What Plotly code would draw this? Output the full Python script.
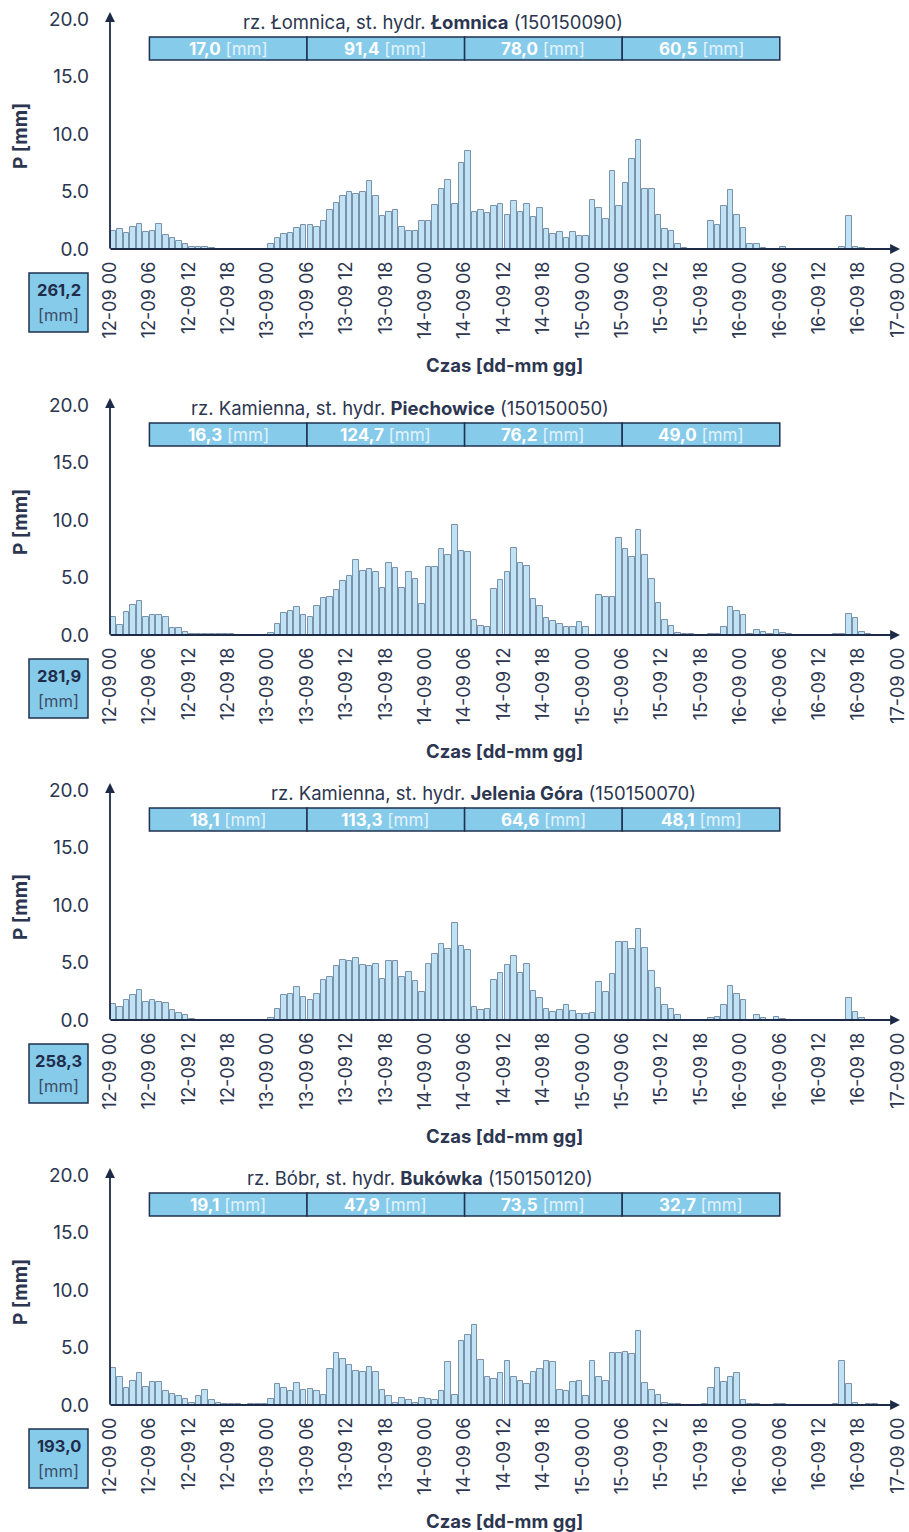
import plotly.graph_objects as go

# ---------------- data ----------------
tick_labels = ["12-09 00", "12-09 06", "12-09 12", "12-09 18",
               "13-09 00", "13-09 06", "13-09 12", "13-09 18",
               "14-09 00", "14-09 06", "14-09 12", "14-09 18",
               "15-09 00", "15-09 06", "15-09 12", "15-09 18",
               "16-09 00", "16-09 06", "16-09 12", "16-09 18",
               "17-09 00"]
hours = list(range(120))

lomnica = [1.6, 1.7, 1.4, 1.9, 2.2, 1.5, 1.6, 2.2, 1.2, 1.0, 0.7, 0.4,
           0.2, 0.2, 0.2, 0.1, 0, 0, 0, 0, 0, 0, 0, 0,
           0.4, 1.0, 1.3, 1.4, 1.8, 2.1, 2.1, 1.9, 2.4, 3.4, 4.0, 4.6,
           5.0, 4.8, 5.0, 5.9, 4.6, 2.9, 3.2, 3.4, 1.9, 1.6, 1.6, 2.4,
           2.4, 3.8, 5.2, 6.0, 3.9, 7.5, 8.5, 3.2, 3.4, 3.1, 3.7, 3.9,
           3.0, 4.2, 3.2, 3.9, 2.8, 3.6, 1.7, 1.3, 1.5, 1.0, 1.5, 1.1,
           1.1, 4.3, 3.6, 2.6, 6.8, 3.7, 5.7, 7.8, 9.5, 5.2, 5.2, 3.0,
           1.7, 1.6, 0.4, 0.1, 0, 0, 0, 2.4, 2.1, 3.7, 5.1, 3.0,
           1.8, 0.4, 0.4, 0.1, 0, 0, 0.2, 0, 0, 0, 0, 0,
           0, 0, 0, 0.2, 2.9, 0.2, 0.1, 0, 0, 0, 0, 0]

piechowice = [1.6, 0.9, 2.0, 2.6, 3.0, 1.6, 1.7, 1.7, 1.6, 0.6, 0.6, 0.3,
              0.1, 0.05, 0.05, 0.05, 0.05, 0.05, 0.05, 0, 0, 0, 0.03, 0.03,
              0.2, 1.0, 1.9, 2.1, 2.4, 1.7, 1.6, 2.5, 3.2, 3.3, 3.9, 4.7,
              5.1, 6.5, 5.6, 5.7, 5.5, 4.1, 6.3, 5.8, 4.1, 5.5, 4.9, 2.7,
              5.9, 5.9, 7.5, 7.0, 9.6, 7.3, 7.2, 1.3, 0.8, 0.7, 4.0, 4.8,
              5.5, 7.6, 6.3, 6.0, 3.1, 2.5, 1.5, 1.2, 1.0, 0.7, 0.7, 1.1,
              0.7, 0, 3.5, 3.3, 3.3, 8.4, 7.5, 6.8, 9.1, 7.0, 4.9, 2.8,
              1.3, 0.8, 0.2, 0.05, 0.05, 0, 0, 0.05, 0.1, 0.7, 2.4, 2.1,
              1.7, 0.05, 0.4, 0.3, 0.05, 0.4, 0.2, 0.05, 0, 0, 0, 0,
              0, 0, 0.05, 0.05, 1.8, 1.5, 0.3, 0.1, 0, 0, 0, 0]

jelenia_gora = [1.4, 1.1, 1.7, 2.2, 2.6, 1.6, 1.7, 1.6, 1.5, 0.9, 0.6, 0.4,
                0.1, 0.03, 0.03, 0.03, 0.03, 0.03, 0.03, 0.03, 0, 0, 0.03, 0.03,
                0.2, 1.0, 2.2, 2.3, 2.9, 2.0, 1.7, 2.3, 3.5, 3.7, 4.7, 5.2,
                5.1, 5.4, 4.8, 4.7, 4.9, 3.6, 5.1, 5.1, 3.7, 4.2, 3.4, 2.4,
                4.9, 5.7, 6.6, 6.2, 8.4, 6.4, 6.1, 1.1, 0.9, 1.0, 3.5, 4.1,
                4.8, 5.6, 4.1, 4.9, 2.5, 1.9, 1.0, 0.7, 0.9, 1.3, 0.8, 0.5,
                0.5, 0.6, 3.3, 2.4, 4.0, 6.8, 6.8, 6.2, 7.9, 6.3, 4.3, 2.8,
                1.3, 1.0, 0.4, 0, 0, 0, 0, 0.2, 0.3, 1.3, 3.0, 2.3,
                1.7, 0, 0.4, 0.2, 0.03, 0.3, 0.1, 0.03, 0, 0, 0, 0,
                0, 0, 0, 0.03, 1.9, 0.7, 0.2, 0, 0, 0, 0, 0]

bukowka = [3.2, 2.4, 1.5, 2.1, 2.8, 1.6, 2.0, 2.0, 1.2, 1.0, 0.8, 0.5,
           0.2, 0.8, 1.3, 0.4, 0.2, 0.1, 0.06, 0.06, 0, 0.06, 0.06, 0.06,
           0.5, 1.8, 1.5, 1.2, 1.9, 1.3, 1.4, 1.2, 0.9, 3.1, 4.5, 4.0,
           3.5, 3.0, 2.9, 3.3, 2.9, 1.3, 0.8, 0.2, 0.6, 0.4, 0.2, 0.6,
           0.5, 0.4, 1.2, 3.7, 0.9, 5.6, 6.1, 7.0, 3.9, 2.4, 2.3, 2.8,
           3.8, 2.4, 2.1, 1.8, 2.9, 3.1, 3.8, 3.7, 1.3, 1.2, 2.0, 2.1,
           0.8, 3.8, 2.4, 2.1, 4.5, 4.5, 4.6, 4.4, 6.4, 1.9, 1.3, 0.9,
           0.2, 0.06, 0.06, 0, 0, 0, 0.06, 1.5, 3.2, 2.0, 2.4, 2.8,
           0.4, 0.06, 0.06, 0, 0, 0.06, 0.1, 0, 0, 0, 0, 0,
           0, 0, 0.06, 3.8, 1.8, 0.2, 0, 0.06, 0.06, 0, 0, 0]

rivers = ["Łomnica", "Kamienna", "Kamienna", "Bóbr"]
station_names = ["Łomnica", "Piechowice", "Jelenia Góra", "Bukówka"]
station_codes = ["150150090", "150150050", "150150070", "150150120"]
day_sums = [["17,0", "91,4", "78,0", "60,5"],
            ["16,3", "124,7", "76,2", "49,0"],
            ["18,1", "113,3", "64,6", "48,1"],
            ["19,1", "47,9", "73,5", "32,7"]]
totals = ["261,2", "281,9", "258,3", "193,0"]
series = [lomnica, piechowice, jelenia_gora, bukowka]

# ---------------- styling / layout ----------------
W, H = 909, 1532
FONT = "Inter, Roboto, Arial, sans-serif"
TXT = "#2c3650"
NAVY = "#1e2b48"
BOX_FILL = "#86cbea"
BOX_LINE = "#1e3150"
BAR_FILL = "#c0e2f5"
BAR_LINE = "#7b92aa"

def px(x):
    return x / W

def py(y):
    return 1 - y / H

baselines = [249, 635, 1020, 1405]
title_cx = [433, 400, 483, 420]
X0, X1 = 110, 898
PLOT_H = 230

fig = go.Figure()
layout = dict(width=W, height=H, margin=dict(l=0, r=0, t=0, b=0, autoexpand=False),
              paper_bgcolor="white", plot_bgcolor="white",
              showlegend=False, bargap=0,
              font=dict(family=FONT, color=TXT))
shapes = []
annotations = []

for k in range(4):
    sfx = "" if k == 0 else str(k + 1)
    xa, ya = "x" + sfx, "y" + sfx
    yb = baselines[k]
    fig.add_trace(go.Bar(
        x=[h + 0.5 for h in hours], y=series[k], width=0.84,
        xaxis=xa, yaxis=ya,
        marker=dict(color=BAR_FILL, line=dict(color=BAR_LINE, width=1)),
    ))
    layout["xaxis" + sfx] = dict(
        domain=[px(X0), px(X1)], range=[0, 120], anchor=ya,
        tickmode="array", tickvals=list(range(0, 121, 6)), ticktext=tick_labels,
        tickangle=-90, showgrid=False, zeroline=False, showline=False,
        ticks="", ticklabelstandoff=8, automargin=False,
        ticklabeloverflow="allow",
        tickfont=dict(family=FONT, size=18, color=TXT),
    )
    layout["yaxis" + sfx] = dict(
        domain=[py(yb), py(yb - PLOT_H)], range=[0, 20], anchor=xa,
        tickmode="array", tickvals=[0, 5, 10, 15, 20], tickformat=".1f",
        showgrid=False, zeroline=False, showline=False, ticks="",
        ticklabelstandoff=20, automargin=False,
        tickfont=dict(family=FONT, size=19, color=TXT),
    )
    # axis arrows
    annotations.append(dict(xref="paper", yref="paper", x=px(X0), y=py(yb - 237),
                            ax=0, ay=238, axref="pixel", ayref="pixel", text="",
                            showarrow=True, arrowhead=2, arrowsize=1.1,
                            arrowwidth=1.8, arrowcolor=NAVY, standoff=0))
    annotations.append(dict(xref="paper", yref="paper", x=px(X1 + 2), y=py(yb),
                            ax=-(X1 + 2 - X0) - 1, ay=0, axref="pixel", ayref="pixel",
                            text="", showarrow=True, arrowhead=2, arrowsize=1.1,
                            arrowwidth=1.8, arrowcolor=NAVY, standoff=0))
    # title
    annotations.append(dict(
        xref="paper", yref="paper", x=px(title_cx[k]), y=py(yb - 227),
        xanchor="center", yanchor="middle", showarrow=False,
        text=f"rz. {rivers[k]}, st. hydr. <b>{station_names[k]}</b> ({station_codes[k]})",
        font=dict(family=FONT, size=18.5, color=TXT)))
    # daily sum boxes
    for j in range(4):
        shapes.append(dict(type="rect", xref=xa, yref=ya,
                           x0=6 + 24 * j, x1=30 + 24 * j, y0=16.43, y1=18.43,
                           fillcolor=BOX_FILL, line=dict(color=BOX_LINE, width=1.5),
                           layer="above"))
        annotations.append(dict(
            xref=xa, yref=ya, x=18 + 24 * j, y=17.43, showarrow=False,
            xanchor="center", yanchor="middle",
            text=f"<b>{day_sums[k][j]}</b> <span style='color:#e3f3fb'>[mm]</span>",
            font=dict(family=FONT, size=17, color="white")))
    # total box
    shapes.append(dict(type="rect", xref="paper", yref="paper",
                       x0=px(29), x1=px(88), y0=py(yb + 83), y1=py(yb + 24),
                       fillcolor=BOX_FILL, line=dict(color=BOX_LINE, width=1.5)))
    annotations.append(dict(xref="paper", yref="paper", x=px(58.5), y=py(yb + 41),
                            showarrow=False, xanchor="center", yanchor="middle",
                            text=f"<b>{totals[k]}</b>",
                            font=dict(family=FONT, size=16.5, color="#1f2d4a")))
    annotations.append(dict(xref="paper", yref="paper", x=px(58.5), y=py(yb + 66),
                            showarrow=False, xanchor="center", yanchor="middle",
                            text="[mm]",
                            font=dict(family=FONT, size=16.5, color="#3d4b66")))
    # axis titles
    annotations.append(dict(xref="paper", yref="paper", x=px(20), y=py(yb - 113),
                            showarrow=False, textangle=-90,
                            xanchor="center", yanchor="middle",
                            text="<b>P [mm]</b>",
                            font=dict(family=FONT, size=19, color=TXT)))
    annotations.append(dict(xref="paper", yref="paper", x=px(504), y=py(yb + 116),
                            showarrow=False, xanchor="center", yanchor="middle",
                            text="<b>Czas [dd-mm gg]</b>",
                            font=dict(family=FONT, size=18.5, color=TXT)))

layout["shapes"] = shapes
layout["annotations"] = annotations
fig.update_layout(**layout)
fig.write_html(
    "out.html",
    post_script="document.body.style.margin='0';document.body.style.padding='0';",
)
